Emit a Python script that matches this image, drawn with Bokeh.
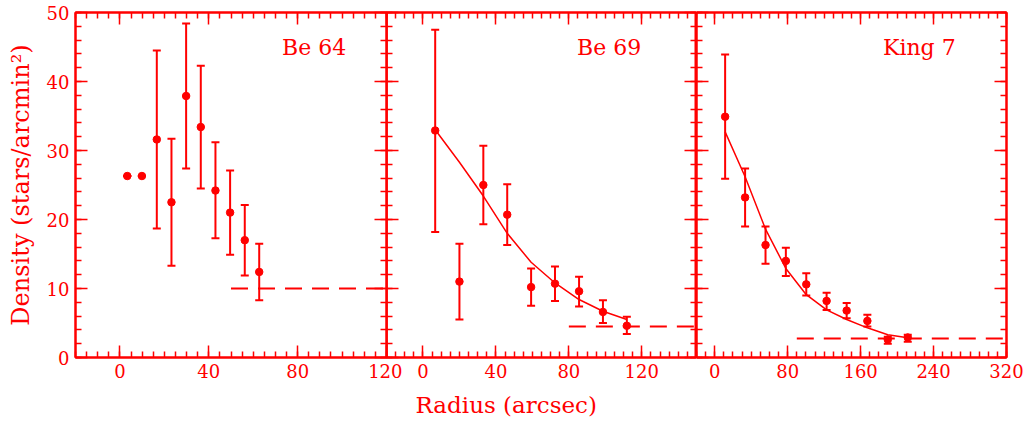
from bokeh.plotting import figure
from bokeh.layouts import row
from bokeh.models import (Range1d, LinearAxis, SingleIntervalTicker, Whisker, TeeHead,
                          ColumnDataSource, Label, Title, CustomJSTickFormatter)
from bokeh.embed import file_html
from bokeh.resources import INLINE

RED = "#ff0000"
FONT = "DejaVu Serif"

# ---------------- data ----------------
# Be 64
be64_r = [3.3, 9.9, 16.6, 23.2, 29.8, 36.4, 43.0, 49.6, 56.2, 62.7]
be64_d = [26.3, 26.3, 31.6, 22.5, 37.9, 33.4, 24.2, 21.0, 17.0, 12.4]
be64_hi = [26.3, 26.3, 44.5, 31.7, 48.4, 42.3, 31.2, 27.1, 22.1, 16.5]
be64_lo = [26.3, 26.3, 18.7, 13.3, 27.4, 24.5, 17.3, 14.9, 11.9, 8.3]
be64_bg_r = [50, 120]
be64_bg = 10.0

# Be 69
be69_r = [6.7, 20.0, 33.1, 46.2, 59.3, 72.4, 85.6, 98.7, 111.8]
be69_d = [32.9, 11.0, 25.0, 20.7, 10.2, 10.7, 9.6, 6.6, 4.6]
be69_hi = [47.5, 16.5, 30.7, 25.1, 12.9, 13.2, 11.7, 8.3, 5.9]
be69_lo = [18.2, 5.5, 19.3, 16.3, 7.5, 8.2, 7.4, 5.0, 3.4]
be69_fit = [33.0, 28.3, 23.4, 18.0, 13.8, 10.8, 8.4, 6.7, 5.5]
be69_bg_r = [80, 150]
be69_bg = 4.5

# King 7
king7_r = [11.4, 33.3, 55.7, 78.0, 100.4, 122.7, 144.7, 167.4, 189.8, 211.7]
king7_d = [34.9, 23.2, 16.3, 14.0, 10.6, 8.2, 6.8, 5.3, 2.6, 2.9]
king7_hi = [43.9, 27.4, 19.0, 15.9, 12.2, 9.4, 7.9, 6.2, 3.0, 3.3]
king7_lo = [25.9, 19.0, 13.6, 11.8, 9.0, 6.9, 5.7, 4.5, 2.0, 2.3]
king7_fit = [32.7, 26.2, 18.6, 12.9, 9.1, 6.9, 5.5, 4.3, 3.3, 2.85]
king7_bg_r = [90, 320]
king7_bg = 2.75

names = ["Be 64", "Be 69", "King 7"]
x_limits = [(-20, 120), (-20, 150), (-20, 320)]
x_major = [40, 40, 80]
y_limits = (0, 50)
x_title = "Radius (arcsec)"
y_title = "Density (stars/arcmin\u00b2)"

# ---------------- helpers ----------------
def style_axis(ax, labels):
    ax.axis_line_color = RED
    ax.axis_line_width = 2
    ax.major_tick_line_color = RED
    ax.minor_tick_line_color = RED
    ax.major_tick_line_width = 1.5
    ax.minor_tick_line_width = 1.5
    ax.major_tick_in = 12
    ax.major_tick_out = 0
    ax.minor_tick_in = 6
    ax.minor_tick_out = 0
    if labels:
        ax.major_label_text_font = FONT
        ax.major_label_text_font_size = "18px"
        ax.major_label_text_color = RED
        ax.major_label_standoff = 6
    else:
        ax.formatter = CustomJSTickFormatter(code="return ''")
        ax.major_label_text_font_size = "0px"
        ax.major_label_standoff = 0


def make_panel(i, r, d, hi, lo, fit, bg_r, bg, name_x, min_left, min_right, margin=None):
    kw = dict(frame_width=311 if i == 0 else 310, frame_height=345,
              x_range=Range1d(*x_limits[i]), y_range=Range1d(*y_limits),
              min_border_left=min_left, min_border_right=min_right,
              min_border_top=12, min_border_bottom=71,
              x_axis_type=None, y_axis_type=None,
              output_backend="svg", toolbar_location=None)
    if margin is not None:
        kw["margin"] = margin
    p = figure(**kw)
    p.outline_line_color = RED
    p.outline_line_width = 2
    if i > 0:
        p.background_fill_color = None
        p.border_fill_color = None

    xt = lambda: SingleIntervalTicker(interval=x_major[i], num_minor_ticks=8)
    yt = lambda: SingleIntervalTicker(interval=10, num_minor_ticks=5)

    bottom = LinearAxis(ticker=xt())
    style_axis(bottom, True)
    p.add_layout(bottom, "below")
    top = LinearAxis(ticker=xt())
    style_axis(top, False)
    p.add_layout(top, "above")
    left = LinearAxis(ticker=yt())
    style_axis(left, i == 0)
    if i == 0:
        left.axis_label = y_title
        left.axis_label_text_font = FONT
        left.axis_label_text_font_size = "24px"
        left.axis_label_text_font_style = "normal"
        left.axis_label_text_color = RED
        left.axis_label_standoff = 9
    p.add_layout(left, "left")
    right = LinearAxis(ticker=yt())
    style_axis(right, False)
    p.add_layout(right, "right")

    src = ColumnDataSource(dict(r=r, d=d, hi=hi, lo=lo))
    w = Whisker(base="r", upper="hi", lower="lo", source=src, dimension="height",
                line_color=RED, line_width=2,
                upper_head=TeeHead(size=8, line_color=RED, line_width=2),
                lower_head=TeeHead(size=8, line_color=RED, line_width=2))
    p.add_layout(w)
    if fit is not None:
        p.line(r, fit, line_color=RED, line_width=1.5)
    p.line(bg_r, [bg, bg], line_color=RED, line_width=2, line_dash="17 10")
    p.scatter("r", "d", source=src, size=7.5, color=RED)

    p.add_layout(Label(x=name_x, y=45.0, text=names[i], text_font=FONT,
                       text_font_size="22px", text_color=RED,
                       text_baseline="alphabetic"))
    return p


f1 = make_panel(0, be64_r, be64_d, be64_hi, be64_lo, None, be64_bg_r, be64_bg, 73.0, 75, 16)
f2 = make_panel(1, be69_r, be69_d, be69_hi, be69_lo, be69_fit, be69_bg_r, be69_bg, 84.5, 0, 0,
                margin=(0, 0, 0, -16))
f3 = make_panel(2, king7_r, king7_d, king7_hi, king7_lo, king7_fit, king7_bg_r, king7_bg, 184.5, 0, 21)

f2.add_layout(Title(text=x_title, align="left", offset=29, vertical_align="bottom",
                    text_font=FONT, text_font_size="23px", text_font_style="normal",
                    text_color=RED, standoff=18), "below")

layout = row(f1, f2, f3)
open("out.html", "w").write(file_html(layout, INLINE))
